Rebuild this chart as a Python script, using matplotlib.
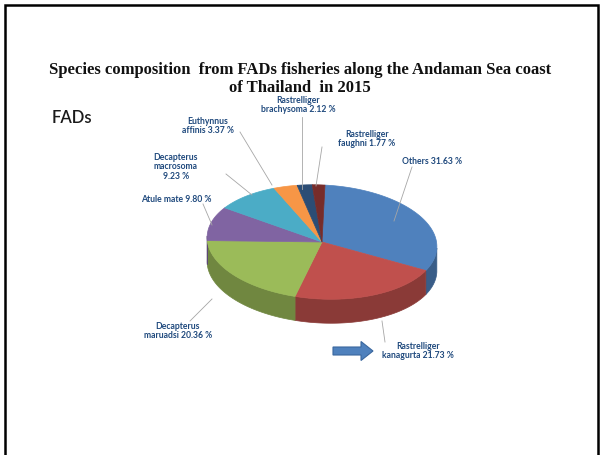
import numpy as np
import matplotlib
matplotlib.use('Agg')
import matplotlib.pyplot as plt
from matplotlib.patches import Polygon, FancyArrow

# species share (%) of the FADs catch, clockwise from 12 o'clock
species = ['Others', 'Rastrelliger\nkanagurta', 'Decapterus\nmaruadsi', 'Atule mate',
           'Decapterus\nmacrosoma\n', 'Euthynnus\naffinis', 'Rastrelliger\nbrachysoma',
           'Rastrelliger\nfaughni']
share = [31.63, 21.73, 20.36, 9.80, 9.23, 3.37, 2.12, 1.77]
colors = ['#4F81BD', '#C0504D', '#9BBB59', '#8064A2', '#4BACC6', '#F79646', '#2C4D75', '#772C2A']

# label centre and leader line (start, end) for each slice, in pixels
label_xy = [(432, 162), (418, 351), (178, 331), (176, 200), (176, 167), (208, 126), (298, 105), (367, 139)]
leaders = [((412, 168), (394, 222)), ((382, 322), (385, 343)), ((190, 322), (212, 300)),
           ((203, 205), (212, 226)), ((226, 175), (252, 196)), ((240, 133), (272, 186)),
           ((302, 118), (302, 190)), ((322, 148), (316, 187))]

cx, cy, rx, ry, depth, tilt = 322, 243, 115, 57, 24, 3.0

fig = plt.figure(figsize=(6.04, 4.56), dpi=100)
ax = fig.add_axes([0, 0, 1, 1])
ax.set_xlim(0, 604)
ax.set_ylim(456, 0)
ax.axis('off')


def rim(angles):
    t = np.radians(angles)
    x = rx * np.sin(t)
    y = -ry * np.cos(t)
    a = np.radians(tilt)
    return cx + x * np.cos(a) - y * np.sin(a), cy + x * np.sin(a) + y * np.cos(a)


def darker(c, f=0.72):
    r, g, b = matplotlib.colors.to_rgb(c)
    return (r * f, g * f, b * f)


edges = np.concatenate([[0], np.cumsum(share)]) / sum(share) * 360

# side wall of the front half
for i, c in enumerate(colors):
    a0, a1 = max(edges[i], 90), min(edges[i + 1], 270)
    if a1 <= a0:
        continue
    ang = np.linspace(a0, a1, 80)
    x, y = rim(ang)
    pts = np.column_stack([np.concatenate([x, x[::-1]]), np.concatenate([y, y[::-1] + depth])])
    ax.add_patch(Polygon(pts, closed=True, facecolor=darker(c), edgecolor=darker(c), lw=0.5))

# top face
for i, c in enumerate(colors):
    ang = np.linspace(edges[i], edges[i + 1], 120)
    x, y = rim(ang)
    pts = np.column_stack([np.concatenate([[cx], x]), np.concatenate([[cy], y])])
    ax.add_patch(Polygon(pts, closed=True, facecolor=c, edgecolor=c, lw=0.5))

# labels with leader lines
for name, val, (lx, ly), (p0, p1) in zip(species, share, label_xy, leaders):
    ax.plot([p0[0], p1[0]], [p0[1], p1[1]], color='#A6A6A6', lw=0.6)
    sep = '' if name.endswith('\n') else ' '
    ax.text(lx, ly, f'{name}{sep}{val:.2f} %', ha='center', va='center', fontsize=6.2,
            family='Lato', weight='bold', color='#1F497D', linespacing=1.05)

ax.add_patch(FancyArrow(333, 352, 28, 0, width=8, head_width=19, head_length=12,
                        length_includes_head=False, facecolor='#4F81BD', edgecolor='#3A679E', lw=0.8))

ax.text(300, 79, 'Species composition  from FADs fisheries along the Andaman Sea coast\nof Thailand  in 2015',
        ha='center', va='center', fontsize=12, family='Liberation Serif', weight='bold',
        color='#111111', linespacing=1.1)
ax.text(52, 118, 'FADs', ha='left', va='center', fontsize=12, family='Lato', weight='semibold',
        color='#1A1A1A')

# slide frame
ax.plot([5, 5, 598, 598], [456, 6, 6, 456], color='black', lw=1.8, solid_joinstyle='miter')

fig.savefig('out.png', dpi=100)
